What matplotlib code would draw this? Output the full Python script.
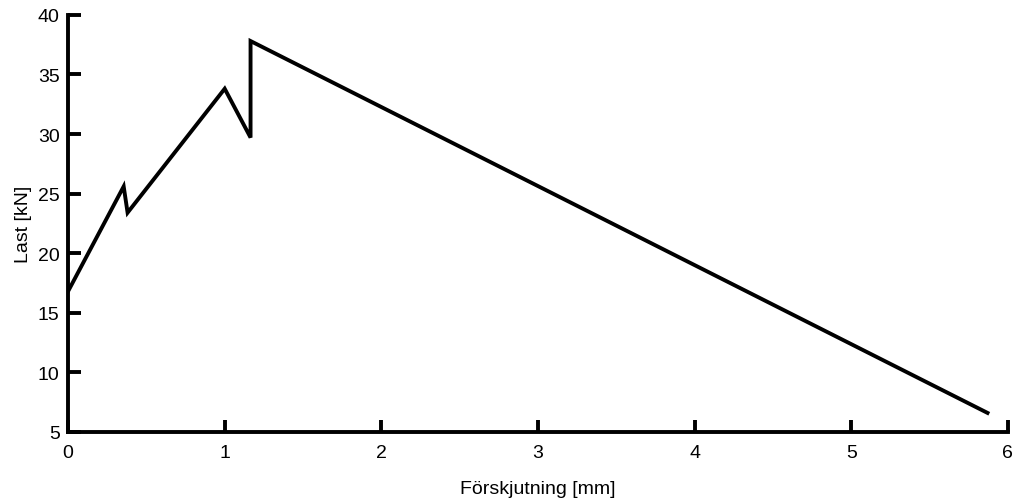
import matplotlib
matplotlib.use('Agg')
import matplotlib.pyplot as plt

# load-displacement curve
displacement = [0.0, 0.355, 0.38, 1.0, 1.165, 1.165, 5.87]
load = [16.8, 25.6, 23.4, 33.8, 29.7, 37.8, 6.6]

xticks = [0, 1, 2, 3, 4, 5, 6]
yticks = [5, 10, 15, 20, 25, 30, 35, 40]

plt.rcParams['font.family'] = ['Liberation Sans', 'DejaVu Sans']

fig = plt.figure(figsize=(10.16, 5.02), dpi=100)
ax = fig.add_axes([0.067, 0.1375, 0.925, 0.831])

ax.plot(displacement, load, color='black', lw=2.8, solid_joinstyle='miter')

ax.set_xlim(0, 6)
ax.set_ylim(5, 40)
ax.set_xticks(xticks)
ax.set_yticks(yticks)

ax.spines['top'].set_visible(False)
ax.spines['right'].set_visible(False)
for s in ['left', 'bottom']:
    ax.spines[s].set_linewidth(2.8)
ax.tick_params(direction='in', length=9, width=2.8, labelsize=14)
ax.tick_params(axis='x', pad=9)
ax.tick_params(axis='y', pad=6)

ax.set_xlabel('Förskjutning [mm]', fontsize=14, labelpad=13)
ax.set_ylabel('Last [kN]', fontsize=14, labelpad=4)

plt.savefig('out.png', dpi=100)
